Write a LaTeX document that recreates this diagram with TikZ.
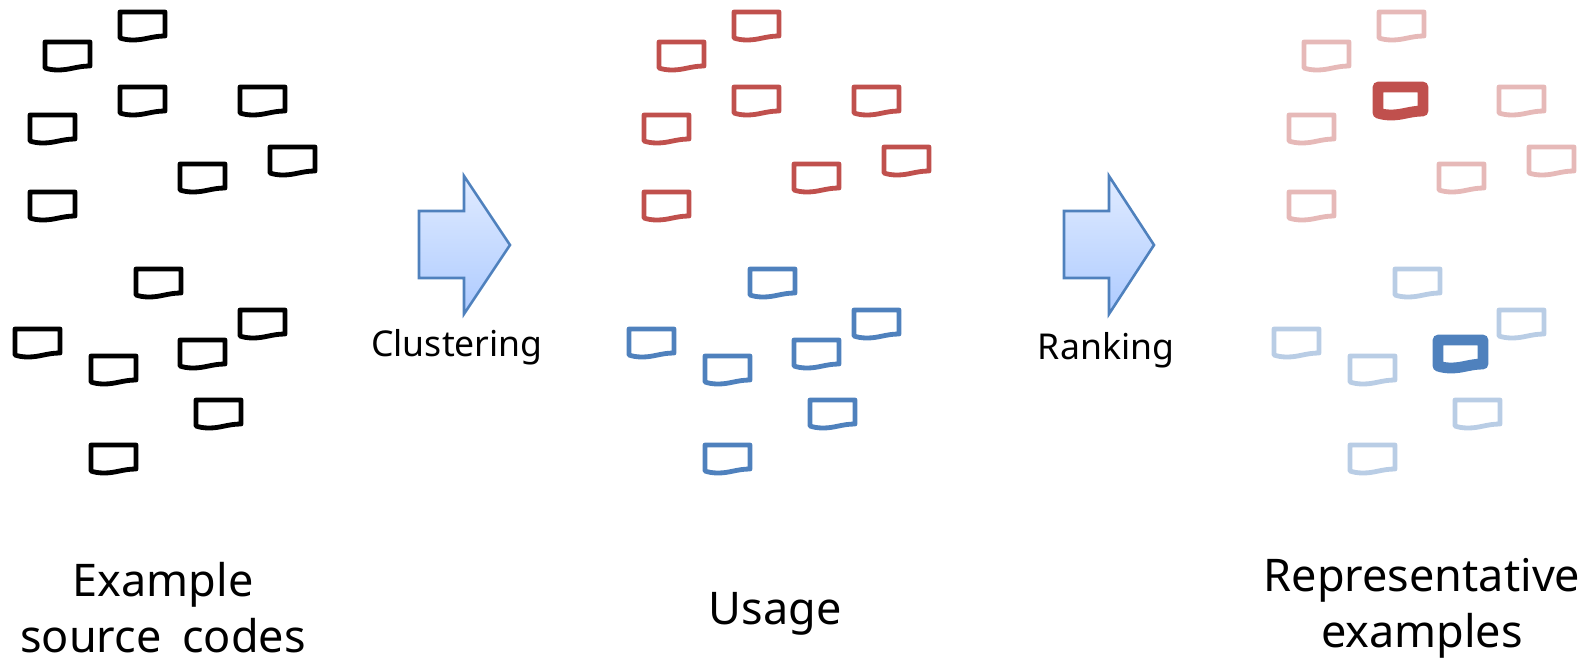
\documentclass[tikz,border=0pt]{standalone}
\usepackage{fontspec}
\setmainfont{Noto Sans}
\usetikzlibrary{calc}
\definecolor{redline}{HTML}{C0504D}
\definecolor{blueline}{HTML}{4F81BD}
\definecolor{redpale}{HTML}{E6B9B8}
\definecolor{bluepale}{HTML}{B9CDE5}
\definecolor{arrowtop}{HTML}{E0EBFF}
\definecolor{arrowbottom}{HTML}{AECBFF}

\tikzset{codedoc/.pic = {
  \draw[pic actions,line join=round] (3,2) -- (48,2) -- (48,26)
    .. controls (35,26) and (28,30) .. (16,30) .. controls (10,30) and (6,29) .. (3,28) -- cycle;
}}
\tikzset{plain/.style = {line width=2.4pt,draw=black}}
\tikzset{redfile/.style = {line width=2.4pt,draw=redline}}
\tikzset{bluefile/.style = {line width=2.4pt,draw=blueline}}
\tikzset{redfaint/.style = {line width=2.4pt,draw=redpale}}
\tikzset{bluefaint/.style = {line width=2.4pt,draw=bluepale}}
\tikzset{redbest/.style = {line width=5.4pt,draw=redline}}
\tikzset{bluebest/.style = {line width=5.4pt,draw=blueline}}
\tikzset{bigarrow/.style = {draw=blueline,line width=1.3pt,miter limit=10,top color=arrowtop,bottom color=arrowbottom}}
\tikzset{caption/.style = {align=center,font=\fontsize{22.5}{28}\selectfont}}
\tikzset{steplabel/.style = {font=\fontsize{17.8}{22}\selectfont}}

\begin{document}
\begin{tikzpicture}[x=0.5pt,y=-0.5pt]
\useasboundingbox (0,0) rectangle (1589,665);
% upper group, three columns
\foreach \px/\py in {117/10,42/40,117/85,237/85,27/113,267/145,177/162,27/190} {
  \pic[plain] at (\px,\py) {codedoc};
  \pic[redfile] at (\px+614,\py) {codedoc};
}
\foreach \px/\py in {117/10,42/40,237/85,27/113,267/145,177/162,27/190} {
  \pic[redfaint] at (\px+1259,\py) {codedoc};
}
\pic[redbest] at (1375,85) {codedoc};
% lower group
\foreach \px/\py in {133/267,237/308,12/327,177/338,88/354,193/398,88/443} {
  \pic[plain] at (\px,\py) {codedoc};
  \pic[bluefile] at (\px+614,\py) {codedoc};
}
\foreach \px/\py in {133/267,237/308,12/327,88/354,193/398,88/443} {
  \pic[bluefaint] at (\px+1259,\py) {codedoc};
}
\pic[bluebest] at (1435,338) {codedoc};
% arrows
\draw[bigarrow] (419,211) -- (464,211) -- (464,176) -- (510,245) -- (464,314) -- (464,278) -- (419,278) -- cycle;
\draw[bigarrow] (1064,211) -- (1109,211) -- (1109,176) -- (1154,245) -- (1109,314) -- (1109,278) -- (1064,278) -- cycle;
\node[steplabel] (clustering) at (457,347) {Clustering};
\node[steplabel] (ranking) at (1106,350) {Ranking};
\node[caption] (source) at (163,608) {Example\\source\hspace{0.2em} codes};
\node[caption] (usage) at (775,614) {Usage};
\node[caption] (repr) at (1422,608) {Representative\\examples};
\end{tikzpicture}
\end{document}
